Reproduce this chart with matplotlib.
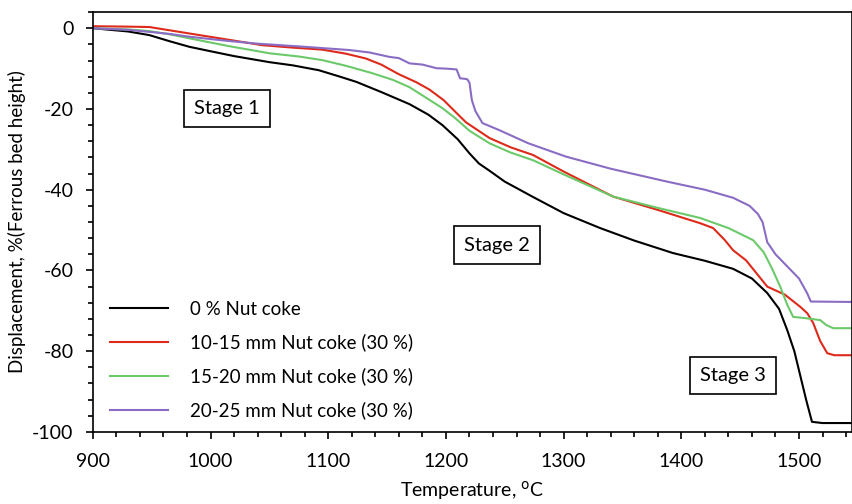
import matplotlib
matplotlib.use('Agg')
import matplotlib.pyplot as plt
from matplotlib.ticker import MultipleLocator

# temperature (C) / displacement (%)
t_0 = [900, 930, 948, 965, 982, 1000, 1020, 1050, 1070, 1092, 1110, 1124, 1145, 1169, 1185, 1197,
       1210, 1220, 1228, 1237, 1250, 1274, 1300, 1331, 1360, 1393, 1420, 1444, 1460, 1473, 1483,
       1490, 1496, 1501, 1506, 1511, 1520, 1545]
d_0 = [0, -0.8, -1.7, -3.2, -4.6, -5.7, -6.9, -8.4, -9.2, -10.4, -12.0, -13.3, -15.8, -18.8, -21.4, -24.0,
       -27.5, -31.0, -33.5, -35.3, -38.0, -41.8, -45.8, -49.5, -52.6, -55.7, -57.6, -59.6, -62.0, -65.6, -69.5,
       -74.8, -80.0, -86.0, -92.0, -97.5, -97.8, -97.8]

t_10 = [900, 930, 948, 965, 982, 1010, 1044, 1070, 1095, 1115, 1132, 1145, 1160, 1175, 1186, 1198,
        1209, 1217, 1237, 1255, 1274, 1300, 1342, 1380, 1416, 1427, 1437, 1444, 1455, 1473, 1488,
        1501, 1507, 1512, 1518, 1524, 1530, 1545]
d_10 = [0.5, 0.4, 0.3, -0.5, -1.3, -2.6, -4.2, -4.8, -5.3, -6.3, -7.5, -9.0, -11.4, -13.4, -15.2, -17.8,
        -21.0, -23.3, -27.2, -29.5, -31.4, -35.5, -41.7, -45.0, -48.3, -49.5, -52.5, -55.0, -57.5, -64.0, -66.0,
        -69.0, -70.6, -73.0, -77.5, -80.5, -81.0, -81.0]

t_15 = [900, 930, 948, 965, 982, 1015, 1050, 1075, 1095, 1115, 1137, 1155, 1169, 1189, 1197, 1208,
        1220, 1237, 1255, 1274, 1300, 1342, 1380, 1416, 1440, 1461, 1470, 1477, 1484, 1490, 1495,
        1505, 1518, 1523, 1529, 1545]
d_15 = [0, -0.3, -0.7, -1.5, -2.5, -4.4, -6.2, -7.0, -7.9, -9.3, -11.1, -12.8, -14.6, -18.3, -19.8, -22.3,
        -25.4, -28.5, -30.8, -32.7, -36.2, -41.7, -44.5, -47.0, -49.5, -52.5, -55.5, -59.5, -64.0, -68.5, -71.5,
        -71.8, -72.3, -73.5, -74.3, -74.3]

t_20 = [900, 930, 948, 965, 982, 1010, 1039, 1080, 1118, 1135, 1152, 1160, 1169, 1180, 1192, 1200,
        1209, 1212, 1218, 1220, 1222, 1225, 1231, 1245, 1270, 1302, 1340, 1388, 1420, 1444, 1458,
        1465, 1469, 1473, 1480, 1490, 1500, 1507, 1510, 1545]
d_20 = [0, -0.4, -0.9, -1.4, -2.1, -3.0, -3.8, -4.6, -5.4, -6.0, -7.1, -7.4, -8.7, -9.0, -9.9, -10.0,
        -10.2, -12.4, -12.6, -13.5, -17.8, -20.5, -23.5, -25.2, -28.5, -31.8, -34.8, -38.0, -40.0, -42.0, -44.0,
        -46.0, -48.0, -53.0, -56.0, -59.0, -62.0, -65.7, -67.7, -67.8]

labels = ['0 % Nut coke', '10-15 mm Nut coke (30 %)', '15-20 mm Nut coke (30 %)', '20-25 mm Nut coke (30 %)']
colors = ['#000000', '#dd2a1b', '#6cc96a', '#8a6cc4']

stage_text = ['Stage 1', 'Stage 2', 'Stage 3']
stage_x = [1014, 1243, 1444]
stage_y = [-19.8, -53.7, -86.0]


def main():
    plt.rcParams['font.family'] = ['Lato', 'DejaVu Sans']
    plt.rcParams['axes.unicode_minus'] = False
    fig = plt.figure(figsize=(8.52, 5.04), dpi=100)
    ax = fig.add_axes([0.109, 0.143, 0.891, 0.833])

    series = [(t_0, d_0), (t_10, d_10), (t_15, d_15), (t_20, d_20)]
    for (t, d), lab, c in zip(series, labels, colors):
        ax.plot(t, d, color=c, lw=1.5, label=lab)

    for s, x, y in zip(stage_text, stage_x, stage_y):
        ax.text(x, y, s, fontsize=14.5, ha='center', va='center',
                bbox=dict(boxstyle='square,pad=0.5', fc='white', ec='black', lw=1.2))

    ax.set_xlim(900, 1545)
    ax.set_ylim(-100, 4)
    ax.xaxis.set_major_locator(MultipleLocator(100))
    ax.xaxis.set_minor_locator(MultipleLocator(20))
    ax.yaxis.set_major_locator(MultipleLocator(20))
    ax.yaxis.set_minor_locator(MultipleLocator(4))
    ax.tick_params(which='major', direction='out', length=5, width=1.2, labelsize=14)
    ax.tick_params(which='minor', direction='out', length=3.5, width=1.2)
    ax.tick_params(axis='x', which='major', pad=10)
    ax.tick_params(axis='y', which='major', pad=9)
    for sp in ax.spines.values():
        sp.set_linewidth(1.2)

    ax.set_xlabel('Temperature, $^{\\rm o}$C', fontsize=14, labelpad=7)
    ax.set_ylabel('Displacement, %(Ferrous bed height)', fontsize=13.5, labelpad=4)

    ax.legend(loc='lower left', bbox_to_anchor=(0.0, -0.01), frameon=False, fontsize=13.5,
              handlelength=3.1, handletextpad=1.2, labelspacing=0.85)

    fig.savefig('out.png', dpi=100)


if __name__ == '__main__':
    main()
